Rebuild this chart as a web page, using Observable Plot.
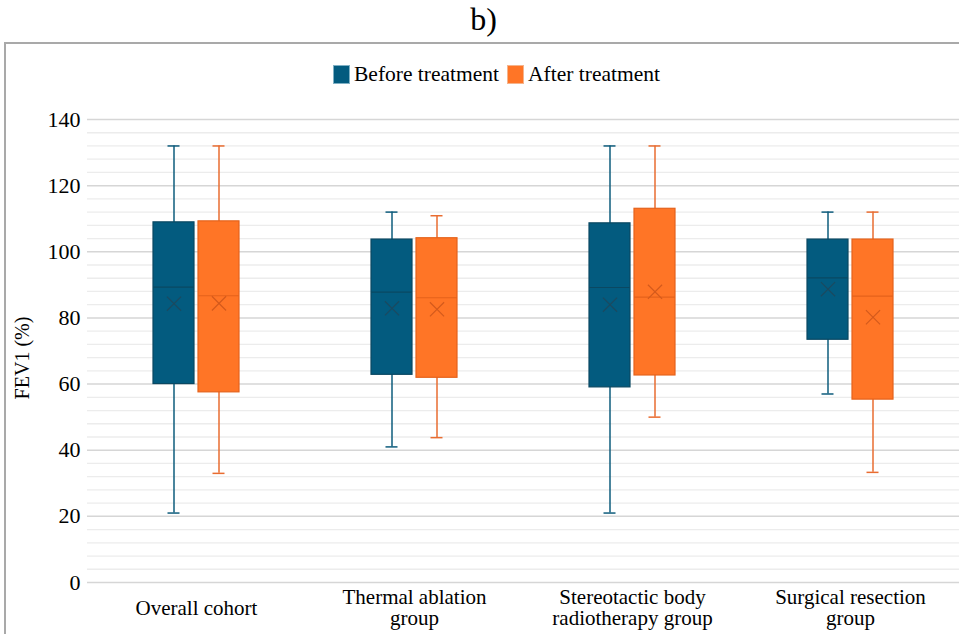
<!DOCTYPE html>
<html>
<head>
<meta charset="utf-8">
<script src="https://cdn.jsdelivr.net/npm/d3@7"></script>
<script src="https://cdn.jsdelivr.net/npm/@observablehq/plot@0.6"></script>
<style>
  html, body { margin: 0; padding: 0; background: #fff; }
  body { width: 959px; height: 634px; overflow: hidden; position: relative;
         font-family: "Liberation Serif", "Times New Roman", serif; color: #000; }
  #title { position: absolute; left: 0; top: 0; width: 959px; height: 42px;
           text-align: center; font-size: 32px; line-height: 38px; padding-left: 8px; box-sizing: border-box; }
  #frame { position: absolute; left: 4px; top: 42px; width: 955px; height: 592px;
           border-top: 2px solid #a9a9a9; border-left: 2px solid #a9a9a9; }
  #legend { height: 56px; padding-top: 5px; padding-left: 26px; box-sizing: border-box;
            display: flex; justify-content: center; align-items: center; font-size: 21.5px;
            font-family: "Liberation Serif", serif; }
  .item { display: flex; align-items: center; margin: 0 4px; }
  .sw { width: 17px; height: 19px; margin-right: 4px; box-sizing: border-box; }
  #chart svg { display: block; }
  #chart svg text { font-family: "Liberation Serif", serif !important; }
</style>
</head>
<body>
<div id="title">b)</div>
<div id="frame">
  <div id="legend"></div>
  <div id="chart"></div>
</div>
<script>
// Treatment groups and their axis labels
const groups = ["Overall cohort", "Thermal ablation group", "Stereotactic body radiotherapy group", "Surgical resection group"];
const groupLabels = ["Overall cohort", "Thermal ablation\ngroup", "Stereotactic body\nradiotherapy group", "Surgical resection\ngroup"];
const phases = ["Before treatment", "After treatment"];

// FEV1 (%) five-number summaries and means, one value per group
const beforeMin    = [21, 41, 21, 57];
const beforeQ1     = [60, 62.8, 59, 73.4];
const beforeMedian = [89.3, 87.8, 89.2, 92.1];
const beforeQ3     = [108.9, 103.7, 108.6, 103.7];
const beforeMax    = [132, 112, 132, 112];
const beforeMean   = [84.3, 82.9, 84, 88.7];

const afterMin    = [33, 43.8, 50, 33.3];
const afterQ1     = [57.5, 61.9, 62.6, 55.3];
const afterMedian = [86.7, 86.1, 86.3, 86.6];
const afterQ3     = [109.2, 104.1, 113, 103.7];
const afterMax    = [132, 110.9, 132, 112];
const afterMean   = [84.4, 82.6, 87.9, 80.2];

// y-axis ticks and gridlines
const majorTicks = [0, 20, 40, 60, 80, 100, 120, 140];
const minorTicks = d3.range(0, 141, 4).filter(v => v % 20 !== 0);
const yTitle = "FEV1 (%)";

const fillColor  = {"Before treatment": "#035b7f", "After treatment": "#ff7526"};
const edgeColor  = {"Before treatment": "#0a4862", "After treatment": "#e5621b"};
const lineColor  = {"Before treatment": "#0e5c7c", "After treatment": "#e96c30"};
const markColor  = {"Before treatment": "#1b4a60", "After treatment": "#d45a1c"};

const rows = [];
groups.forEach((g, i) => {
  rows.push({group: g, phase: phases[0], min: beforeMin[i], q1: beforeQ1[i], median: beforeMedian[i], q3: beforeQ3[i], max: beforeMax[i], mean: beforeMean[i]});
  rows.push({group: g, phase: phases[1], min: afterMin[i], q1: afterQ1[i], median: afterMedian[i], q3: afterQ3[i], max: afterMax[i], mean: afterMean[i]});
});

// Legend
const legend = document.getElementById("legend");
phases.forEach(p => {
  const it = document.createElement("div");
  it.className = "item";
  const sw = document.createElement("div");
  sw.className = "sw";
  sw.style.background = fillColor[p];
  sw.style.border = "1px solid " + (p === phases[0] ? "#7fb0c4" : "#f5b48c");
  const tx = document.createElement("span");
  tx.textContent = p;
  it.appendChild(sw);
  it.appendChild(tx);
  legend.appendChild(it);
});

const chart = Plot.plot({
  width: 953,
  height: 534,
  marginLeft: 81,
  marginRight: 0,
  marginTop: 19,
  marginBottom: 52,
  style: {fontFamily: "'Liberation Serif', serif", fontSize: "21px", color: "#000", background: "#fff"},
  fx: {domain: groups, padding: 0, label: null},
  x: {domain: phases, paddingInner: 0.095, paddingOuter: 1.45, axis: null},
  y: {domain: [0, 140], label: null},
  marks: [
    Plot.ruleY(minorTicks, {stroke: "#ececec", strokeWidth: 1.3}),
    Plot.ruleY(majorTicks, {stroke: "#d6d6d6", strokeWidth: 1.5}),
    Plot.axisY({ticks: [], tickSize: 0, line: true, stroke: "#d6d6d6", label: null}),
    Plot.axisY({ticks: majorTicks, tickSize: 0, tickPadding: 7, fontSize: 22, label: null}),
    // y-axis title, drawn in the first facet only
    Plot.text([yTitle], {fx: [groups[0]], text: d => d, frameAnchor: "left", rotate: -90,
                         textAnchor: "middle", lineAnchor: "middle", dx: -65, dy: 7, fontSize: 20}),
    Plot.axisFx({anchor: "bottom", tickSize: 0, tickPadding: 25, fontSize: 21, lineHeight: 1.04,
                 lineAnchor: "middle", label: null,
                 tickFormat: d => groupLabels[groups.indexOf(d)]}),
    // whiskers and caps
    Plot.ruleX(rows, {fx: "group", x: "phase", y1: "min", y2: "max", stroke: d => lineColor[d.phase], strokeWidth: 1.5}),
    Plot.tickY(rows, {fx: "group", x: "phase", y: "max", stroke: d => lineColor[d.phase], strokeWidth: 1.5, insetLeft: 14.5, insetRight: 14.5}),
    Plot.tickY(rows, {fx: "group", x: "phase", y: "min", stroke: d => lineColor[d.phase], strokeWidth: 1.5, insetLeft: 14.5, insetRight: 14.5}),
    // interquartile boxes
    Plot.barY(rows, {fx: "group", x: "phase", y1: "q1", y2: "q3", fill: d => fillColor[d.phase], stroke: d => edgeColor[d.phase], strokeWidth: 1.2}),
    // medians and means
    Plot.tickY(rows, {fx: "group", x: "phase", y: "median", stroke: d => edgeColor[d.phase], strokeWidth: 1.2}),
    Plot.dot(rows, {fx: "group", x: "phase", y: "mean", symbol: "times", r: 6.5, stroke: d => markColor[d.phase], strokeWidth: 1.2})
  ]
});
document.getElementById("chart").appendChild(chart);
</script>
</body>
</html>
